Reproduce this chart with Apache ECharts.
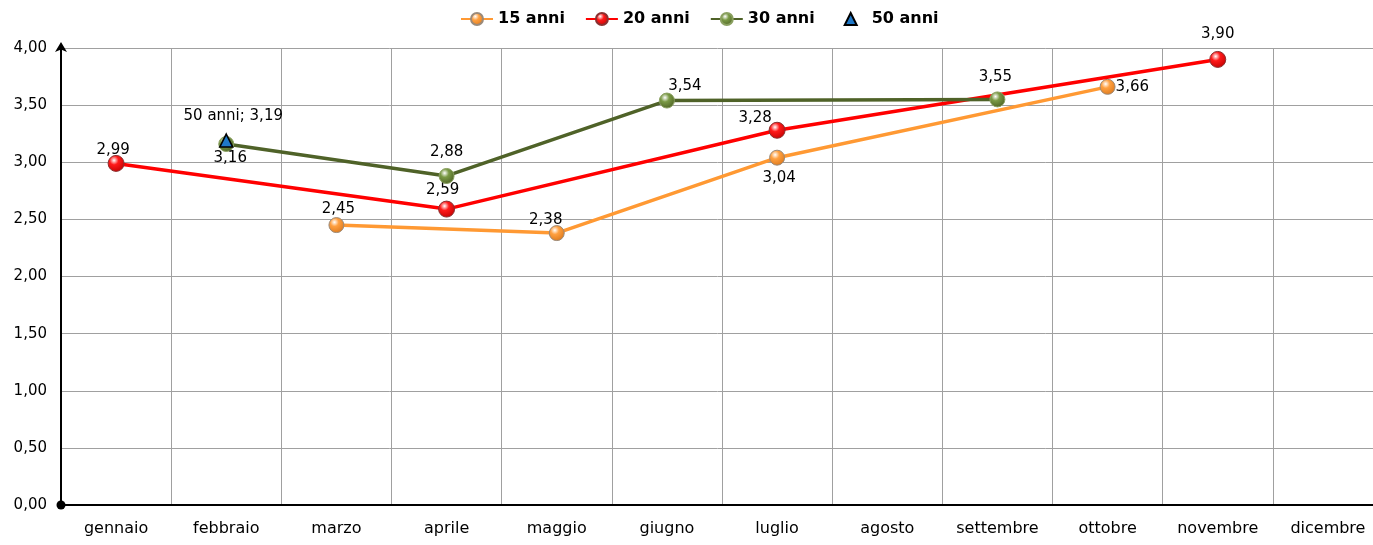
<!doctype html>
<html lang="it">
<head>
    <meta charset="UTF-8">
    <title>Rendimenti</title>
    <style>
        html, body { margin: 0; padding: 0; background: #fff; overflow: hidden; }
        #chart { width: 1373px; height: 545px; }
    </style>
</head>
<body>
    <div id="chart"></div>

    <script src="https://cdn.jsdelivr.net/npm/echarts@6/dist/echarts.min.js"></script>
    <script>
        var mesi = ["gennaio", "febbraio", "marzo", "aprile", "maggio", "giugno", "luglio", "agosto", "settembre", "ottobre", "novembre", "dicembre"];
        var anni15 = [null, null, 2.45, null, 2.38, null, 3.04, null, null, 3.66, null, null];
        var anni20 = [2.99, null, null, 2.59, null, null, 3.28, null, null, null, 3.90, null];
        var anni30 = [null, 3.16, null, 2.88, null, 3.54, null, null, 3.55, null, null, null];
        var anni50 = [null, 3.19, null, null, null, null, null, null, null, null, null, null];
        var yTicks = [0, 0.5, 1, 1.5, 2, 2.5, 3, 3.5, 4];

        var font = 'DejaVu Sans';

        function virgola(v) {
            return v.toFixed(2).replace('.', ',');
        }

        function sfera(base, dark) {
            return {
                type: 'radial', x: 0.38, y: 0.32, r: 0.75,
                colorStops: [
                    { offset: 0, color: '#ffffff' },
                    { offset: 0.35, color: base },
                    { offset: 1, color: dark }
                ]
            };
        }

        // posizione etichette, come nel grafico originale
        var pos15 = { 2: ['top', [2, 5]], 4: ['top', [-11, 8]], 6: ['bottom', [2, 0]], 9: ['right', [-5, 0]] };
        var pos20 = { 0: ['top', [-3, 8]], 3: ['top', [-4, 2]], 6: ['top', [-22, 9]], 10: ['top', [0, -4]] };
        var pos30 = { 1: ['bottom', [4, -6]], 3: ['top', [0, -3]], 5: ['top', [18, 6]], 8: ['top', [-2, -2]] };

        function punti(arr, pos) {
            return arr.map(function (v, i) {
                if (v === null) return null;
                var p = pos[i] || ['top', [0, 0]];
                return {
                    value: v,
                    label: { show: true, position: p[0], offset: p[1] }
                };
            });
        }

        var labelBase = {
            show: true,
            fontFamily: font,
            fontSize: 15,
            color: '#000',
            formatter: function (p) { return virgola(p.value); }
        };

        var chart = echarts.init(document.getElementById('chart'));

        var option = {
            animation: false,
            textStyle: { fontFamily: font },
            legend: {
                top: 6,
                left: 455,
                itemWidth: 32,
                itemHeight: 15,
                itemGap: 20,
                textStyle: { fontFamily: font, fontSize: 16, fontWeight: 'bold', color: '#000' },
                data: ['15 anni', '20 anni', '30 anni', '50 anni']
            },
            grid: {
                left: 61,
                width: 1322,
                top: 48,
                bottom: 40,
                containLabel: false,
                outerBoundsMode: 'none'
            },
            xAxis: {
                type: 'category',
                data: mesi,
                boundaryGap: true,
                axisLine: { lineStyle: { color: '#000', width: 2 } },
                axisTick: { show: false },
                axisLabel: { fontFamily: font, fontSize: 16, color: '#000', margin: 16, interval: 0 },
                splitLine: { show: true, lineStyle: { color: '#a0a0a0', width: 1 } }
            },
            yAxis: {
                type: 'value',
                min: yTicks[0],
                max: yTicks[yTicks.length - 1],
                interval: 0.5,
                axisLine: {
                    show: true,
                    symbol: ['circle', 'arrow'],
                    symbolSize: [9, 10],
                    symbolOffset: [0, 6],
                    lineStyle: { color: '#000', width: 2 }
                },
                axisTick: { show: false },
                axisLabel: {
                    fontFamily: font, fontSize: 15, color: '#000', margin: 14,
                    formatter: function (v) { return virgola(v); }
                },
                splitLine: { show: true, lineStyle: { color: '#a0a0a0', width: 1 } }
            },
            series: [
                {
                    name: '15 anni',
                    type: 'line',
                    connectNulls: true,
                    data: punti(anni15, pos15),
                    symbol: 'circle',
                    symbolSize: 15,
                    lineStyle: { color: '#ff9933', width: 3.5 },
                    itemStyle: { color: sfera('#ffa040', '#d9761a'), borderColor: '#9a8a7a', borderWidth: 1 },
                    label: labelBase,
                    z: 3
                },
                {
                    name: '20 anni',
                    type: 'line',
                    connectNulls: true,
                    data: punti(anni20, pos20),
                    symbol: 'circle',
                    symbolSize: 16,
                    lineStyle: { color: '#ff0000', width: 3.5 },
                    itemStyle: { color: sfera('#ff1a1a', '#c00000'), borderColor: '#8a3030', borderWidth: 1 },
                    label: labelBase,
                    z: 4
                },
                {
                    name: '30 anni',
                    type: 'line',
                    connectNulls: true,
                    data: punti(anni30, pos30),
                    symbol: 'circle',
                    symbolSize: 15,
                    lineStyle: { color: '#4f6228', width: 3.5 },
                    itemStyle: { color: sfera('#7a9a45', '#4a5e22'), borderColor: '#8aa060', borderWidth: 1 },
                    label: labelBase,
                    z: 5
                },
                {
                    name: '50 anni',
                    type: 'line',
                    data: anni50,
                    symbol: 'triangle',
                    symbolSize: 13,
                    lineStyle: { width: 0, opacity: 0 },
                    itemStyle: { color: '#1f78c8', borderColor: '#000', borderWidth: 1.5 },
                    label: {
                        show: true,
                        position: 'top',
                        offset: [7, -5],
                        fontFamily: font,
                        fontSize: 15,
                        color: '#000',
                        formatter: function (p) { return p.seriesName + '; ' + virgola(p.value); }
                    },
                    z: 6
                }
            ]
        };

        chart.setOption(option);
    </script>
</body>
</html>
